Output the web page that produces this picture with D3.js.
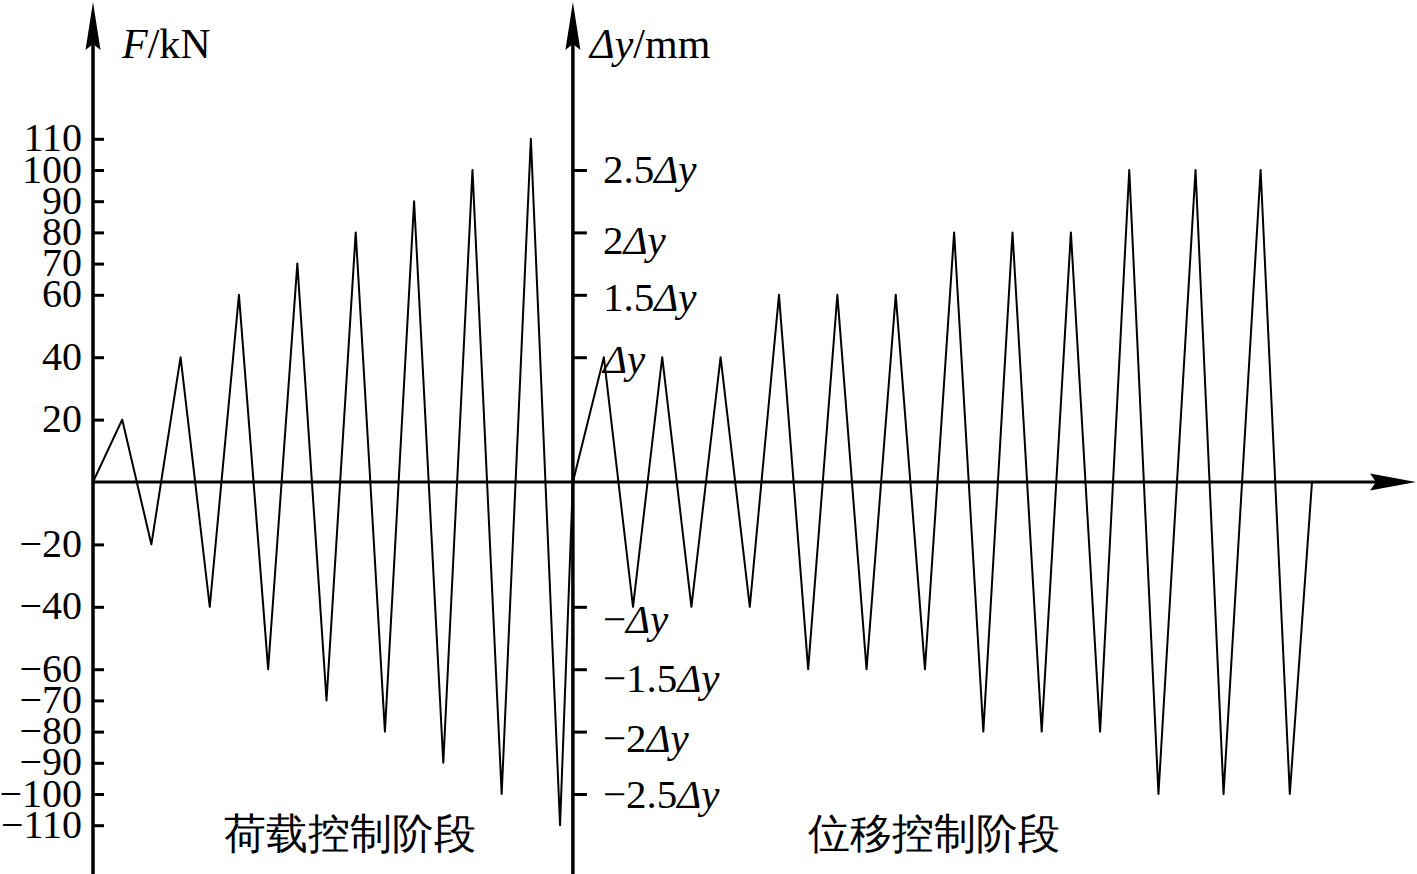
<!DOCTYPE html>
<html>
<head>
<meta charset="utf-8">
<script src="https://cdn.jsdelivr.net/npm/d3@7"></script>
<style>
  html, body { margin: 0; padding: 0; background: #fff; }
  svg { display: block; }
  text { font-family: "Liberation Serif", "Times New Roman", serif; fill: #000; }
</style>
</head>
<body>
<svg id="chart" width="1417" height="874"></svg>
<script>
// ---- Data ----
// Load-control stage: loading step position and force (kN)
const loadStep = [0, 1, 2, 3, 4, 5, 6, 7, 8, 9, 10, 11, 12, 13, 14, 15, 16, 16.44];
const loadKN   = [0, 20, -20, 40, -40, 60, -60, 70, -70, 80, -80, 90, -90, 100, -100, 110, -110, 0];

// Displacement-control stage: loading step position and displacement (multiples of Δy)
const dispStep = [16.44, 17.5, 18.5, 19.5, 20.5, 21.5, 22.5, 23.5, 24.5, 25.5, 26.5, 27.5, 28.5,
                  29.5, 30.5, 31.5, 32.5, 33.5, 34.5, 35.5, 36.5, 37.77, 38.73, 40.0, 41.0, 41.76];
const dispDy   = [0, 1, -1, 1, -1, 1, -1, 1.5, -1.5, 1.5, -1.5, 1.5, -1.5,
                  2, -2, 2, -2, 2, -2, 2.5, -2.5, 2.5, -2.5, 2.5, -2.5, 0];

// Tick values / labels
const forceTicks = [-110, -100, -90, -80, -70, -60, -40, -20, 20, 40, 60, 70, 80, 90, 100, 110];
const dispTicks  = [-2.5, -2, -1.5, -1, 1, 1.5, 2, 2.5];
const dispTickNum = {"-2.5": "−2.5", "-2": "−2", "-1.5": "−1.5", "-1": "−", "1": "", "1.5": "1.5", "2": "2", "2.5": "2.5"};
const stageLabels = ["荷载控制阶段", "位移控制阶段"];
const stageBoundary = 16.44;
const lastStep = 41.76;

// ---- Layout ----
const svg = d3.select("#chart");
const W = 1417, H = 874;
const x = d3.scaleLinear().domain([0, lastStep]).range([93, 1312]);
const y = d3.scaleLinear().domain([-110, 110]).range([825.2, 138.8]);
const yD = d3.scaleLinear().domain([-2.75, 2.75]).range([825.2, 138.8]);
// small per-label vertical nudges seen in the original typesetting (px)
const dispLabelNudge = {"-2.5": 0, "-2": 6, "-1.5": 8, "-1": 12, "1": 1, "1.5": 2, "2": 7, "2.5": -1};

const x0 = x(0), xB = x(stageBoundary), y0 = y(0);

// ---- Axes lines ----
svg.append("line").attr("x1", x0).attr("x2", 1380).attr("y1", y0).attr("y2", y0)
  .attr("stroke", "#000").attr("stroke-width", 3);
svg.append("path")
  .attr("d", `M1416,${y0} L1370,${y0 - 8.5} L1376,${y0} L1370,${y0 + 8.5} Z`)
  .attr("fill", "#000");

[x0, xB].forEach(ax => {
  svg.append("line").attr("x1", ax).attr("x2", ax).attr("y1", H).attr("y2", 40)
    .attr("stroke", "#000").attr("stroke-width", 3.5);
  svg.append("path")
    .attr("d", `M${ax},2 L${ax + 7.5},50 L${ax},44 L${ax - 7.5},50 Z`)
    .attr("fill", "#000");
});

// Left axis (force)
const leftAxis = d3.axisLeft(y).tickValues(forceTicks).tickSize(-11).tickPadding(11)
  .tickFormat(d => (d < 0 ? "−" + Math.abs(d) : String(d)));
const gL = svg.append("g").attr("transform", `translate(${x0},0)`).call(leftAxis);
gL.select(".domain").remove();
gL.selectAll(".tick line").attr("stroke", "#000").attr("stroke-width", 3);
gL.selectAll(".tick text")
  .attr("font-family", '"Liberation Serif", "Times New Roman", serif')
  .attr("font-size", 40).attr("dy", "0.3em").attr("fill", "#000");

// Right axis (displacement)
const rightAxis = d3.axisRight(yD).tickValues(dispTicks).tickSize(14).tickPadding(16).tickFormat("");
const gR = svg.append("g").attr("transform", `translate(${xB},0)`).call(rightAxis);
gR.select(".domain").remove();
gR.selectAll(".tick line").attr("stroke", "#000").attr("stroke-width", 3);
gR.selectAll(".tick text")
  .attr("font-family", '"Liberation Serif", "Times New Roman", serif')
  .attr("font-size", 41).attr("dy", "0.34em").attr("fill", "#000")
  .attr("y", d => dispLabelNudge[String(d)])
  .each(function(d) {
    const t = d3.select(this);
    const num = dispTickNum[String(d)];
    if (num) t.append("tspan").text(num);
    t.append("tspan").attr("font-style", "italic").text("Δy");
  });

// Axis titles
const tF = svg.append("text").attr("x", 122).attr("y", 58).attr("font-size", 42);
tF.append("tspan").attr("font-style", "italic").text("F");
tF.append("tspan").text("/kN");
const tD = svg.append("text").attr("x", 590).attr("y", 58).attr("font-size", 42);
tD.append("tspan").attr("font-style", "italic").text("Δy");
tD.append("tspan").text("/mm");

// ---- Series ----
const line = d3.line();
svg.append("path")
  .attr("d", line(loadStep.map((s, i) => [x(s), y(loadKN[i])])))
  .attr("fill", "none").attr("stroke", "#000").attr("stroke-width", 2)
  .attr("stroke-linejoin", "round");
svg.append("path")
  .attr("d", line(dispStep.map((s, i) => [x(s), yD(dispDy[i])])))
  .attr("fill", "none").attr("stroke", "#000").attr("stroke-width", 2)
  .attr("stroke-linejoin", "round");

// ---- Stage labels ----
const stageCenters = [x(8.8), x(28.8)];
stageLabels.forEach((lbl, i) => {
  svg.append("text").attr("x", stageCenters[i]).attr("y", 848)
    .attr("text-anchor", "middle")
    .attr("font-family", '"Noto Sans CJK SC", sans-serif')
    .attr("font-weight", 300)
    .attr("font-size", 42)
    .text(lbl);
});
</script>
</body>
</html>
